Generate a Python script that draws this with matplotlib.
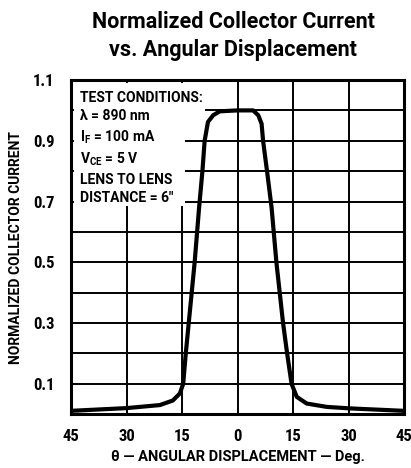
import numpy as np
import matplotlib
matplotlib.use("Agg")
import matplotlib.pyplot as plt
from matplotlib.patches import Rectangle

# curve (angle in degrees, normalized current)
angle = [-45, -30, -21, -17.5, -15.6, -14.7, -14.0, -13.2, -11.6, -10.4, -9.5,
         -8.9, -8.0, -6.6, -4.8, 0, 4.2, 5.6, 6.5, 6.9, 8.0, 9.2, 10.5, 12.3,
         13.4, 14.6, 16.0, 18.7, 24.1, 30.4, 45]
current = [0.011, 0.02, 0.03, 0.045, 0.068, 0.1, 0.2, 0.3, 0.5, 0.68, 0.8,
           0.9, 0.962, 0.984, 0.997, 1.0, 1.0, 0.984, 0.956, 0.9, 0.797, 0.68,
           0.5, 0.3, 0.2, 0.1, 0.057, 0.035, 0.024, 0.019, 0.011]

xticks = [-45, -30, -15, 0, 15, 30, 45]
xtick_labels = ["45", "30", "15", "0", "15", "30", "45"]
yticks = [0.1, 0.3, 0.5, 0.7, 0.9, 1.1]
ytick_labels = ["0.1", "0.3", "0.5", "0.7", "0.9", "1.1"]

conditions = ("TEST CONDITIONS:\n"
              "λ = 890 nm\n"
              "I$_{\\mathrm{F}}$ = 100 mA\n"
              "V$_{\\mathrm{CE}}$ = 5 V\n"
              "LENS TO LENS\n"
              "DISTANCE = 6\"")

plt.rcParams['font.family'] = ['Roboto Condensed', 'DejaVu Sans']
plt.rcParams['font.weight'] = 'bold'
plt.rcParams['mathtext.fontset'] = 'custom'
plt.rcParams['mathtext.rm'] = 'Roboto:bold'
plt.rcParams['mathtext.it'] = 'Roboto:bold'
plt.rcParams['mathtext.bf'] = 'Roboto:bold'
wide = ['Roboto', 'DejaVu Sans']

fig = plt.figure(figsize=(4.11, 4.68), dpi=100)
ax = fig.add_axes([0.173, 0.115, 0.81, 0.714])

ax.set_xlim(-45, 45)
ax.set_ylim(0, 1.1)

# grid
for gx in xticks[1:-1]:
    ax.axvline(gx, color='black', lw=1.4, zorder=1)
for gy in np.arange(1, 11) / 10:
    ax.axhline(gy, color='black', lw=1.4, zorder=1)

# white area behind the test conditions
ax.add_patch(Rectangle((-44.2, 0.685), 30.0, 0.405, facecolor='white',
                       edgecolor='none', zorder=2))
ax.add_patch(Rectangle((-14.3, 0.96), 5.5, 0.13, facecolor='white',
                       edgecolor='none', zorder=2))

ax.plot(angle, current, color='black', lw=3, solid_capstyle='round',
        solid_joinstyle='round', zorder=3)

ax.text(-42.6, 1.065, conditions, fontsize=10, fontweight='bold',
        family=wide, va='top', ha='left', linespacing=1.4, zorder=4)

ax.set_xticks(xticks)
ax.set_xticklabels(xtick_labels)
ax.set_yticks(yticks)
ax.set_yticklabels(ytick_labels)
ax.tick_params(length=0, labelsize=12, pad=12)
ax.tick_params(axis='x', pad=11)

for s in ax.spines.values():
    s.set_linewidth(2.2)

ax.set_xlabel("θ — ANGULAR DISPLACEMENT — Deg.", fontsize=10.5,
              fontweight='bold', family=wide, labelpad=4)
ax.set_ylabel("NORMALIZED COLLECTOR CURRENT", fontsize=10,
              fontweight='bold', family=wide, labelpad=7)

fig.text(0.567, 0.924, "Normalized Collector Current\nvs. Angular Displacement",
         ha='center', va='center', fontsize=15.5, fontweight='bold',
         family=wide, linespacing=1.35)

fig.savefig("out.png", dpi=100)
